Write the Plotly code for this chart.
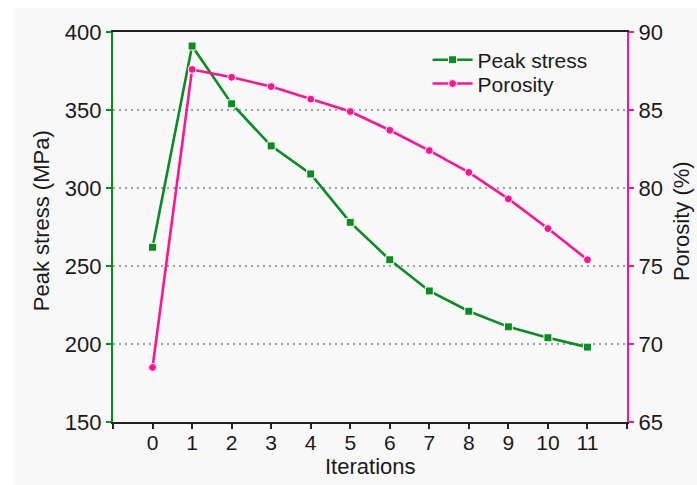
import plotly.graph_objects as go

iterations = list(range(12))
peak_stress = [262, 391, 354, 327, 309, 278, 254, 234, 221, 211, 204, 198]
porosity = [68.5, 87.6, 87.1, 86.5, 85.7, 84.9, 83.7, 82.4, 81.0, 79.3, 77.4, 75.4]
x_tickvals = list(range(-1, 13))
x_ticktext = [""] + [str(i) for i in iterations] + [""]

GREEN = "#0a8c23"
PINK = "#ff1493"
FONT = "Liberation Sans, Arial, sans-serif"
TXT = "#1a1a1a"
BG = "#f9f9f9"

fig = go.Figure()
fig.add_trace(go.Scatter(
    x=iterations, y=peak_stress, name="Peak stress", mode="lines+markers",
    line=dict(color=GREEN, width=2.6),
    marker=dict(symbol="square", size=8, color=GREEN, line=dict(color="white", width=1)),
    yaxis="y", legend="legend",
))
fig.add_trace(go.Scatter(
    x=iterations, y=porosity, name="Porosity", mode="lines+markers",
    line=dict(color=PINK, width=2.6),
    marker=dict(symbol="circle", size=8, color=PINK, line=dict(color="white", width=1)),
    yaxis="y2", legend="legend2",
))

leg_common = dict(xanchor="left", yanchor="middle", bgcolor="rgba(0,0,0,0)",
                  font=dict(size=21, color=TXT), itemwidth=40)

fig.update_layout(
    width=697, height=485,
    margin=dict(l=113, r=70, t=32, b=63),
    paper_bgcolor=BG, plot_bgcolor=BG,
    font=dict(family=FONT, size=22, color=TXT),
    showlegend=True,
    legend=dict(x=0.612, y=0.928, **leg_common),
    legend2=dict(x=0.612, y=0.867, **leg_common),
    xaxis=dict(
        range=[-1, 12], tickmode="array", tickvals=x_tickvals, ticktext=x_ticktext,
        showgrid=False, zeroline=False, showline=True, linecolor="#222222", linewidth=2,
        mirror=True, ticks="outside", ticklen=5, tickwidth=1.5, tickcolor="#222222",
        tickfont=dict(size=21, color=TXT), ticklabelstandoff=-4,
    ),
    yaxis=dict(
        range=[150, 400], tickvals=[150, 200, 250, 300, 350, 400],
        showgrid=True, gridcolor="#a0a0a0", gridwidth=1.5, griddash="2px,4px",
        zeroline=False, showline=True, linecolor=GREEN, linewidth=2.2,
        ticks="outside", ticklen=5, tickwidth=2, tickcolor=GREEN,
        tickfont=dict(size=22, color=TXT),
    ),
    yaxis2=dict(
        range=[65, 90], tickvals=[65, 70, 75, 80, 85, 90], overlaying="y", side="right",
        showgrid=False, zeroline=False, showline=True, linecolor=PINK, linewidth=2.2,
        ticks="outside", ticklen=5, tickwidth=2, tickcolor=PINK,
        tickfont=dict(size=22, color=TXT),
    ),
    shapes=[
        dict(type="rect", xref="paper", yref="paper", x0=-0.4, x1=1.4, y0=1.0615, y1=1.3,
             fillcolor="white", line=dict(width=0), layer="below"),
        dict(type="rect", xref="paper", yref="paper", x0=-0.4, x1=-0.1926, y0=-0.4, y1=1.3,
             fillcolor="white", line=dict(width=0), layer="below"),
    ],
    annotations=[
        dict(text="Peak stress (MPa)", xref="paper", yref="paper", x=-0.140, y=0.515,
             textangle=-90, showarrow=False, xanchor="center", yanchor="middle",
             font=dict(size=22, color=TXT)),
        dict(text="Porosity (%)", xref="paper", yref="paper", x=1.105, y=0.515,
             textangle=-90, showarrow=False, xanchor="center", yanchor="middle",
             font=dict(size=22, color=TXT)),
        dict(text="Iterations", xref="paper", yref="paper", x=0.5, y=-0.115,
             showarrow=False, xanchor="center", yanchor="middle",
             font=dict(size=22, color=TXT)),
    ],
)

fig.write_html("out.html")
